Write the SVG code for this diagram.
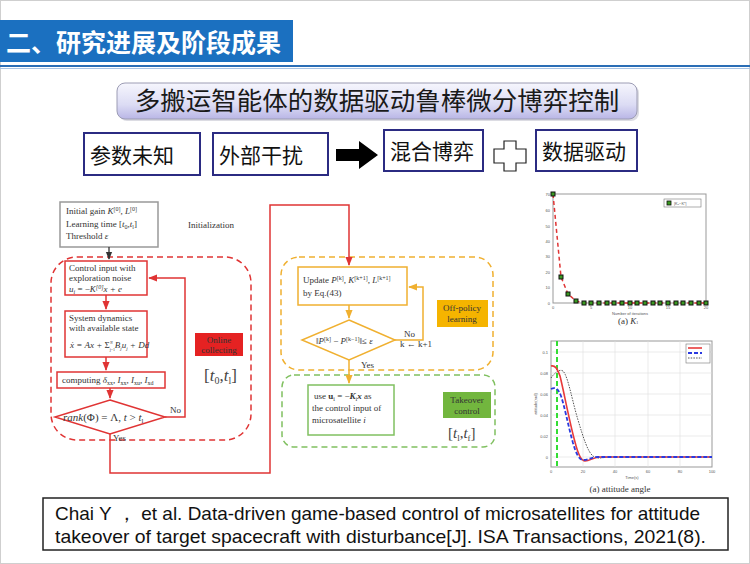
<svg xmlns="http://www.w3.org/2000/svg" width="750" height="564" viewBox="0 0 750 564">
<defs>
<linearGradient id="bannerGrad" x1="0" y1="0" x2="0" y2="1">
<stop offset="0" stop-color="#f6f6fd"/>
<stop offset="0.6" stop-color="#dcdcf4"/>
<stop offset="1" stop-color="#b9b6e6"/>
</linearGradient>
<marker id="arrR" viewBox="0 0 10 10" refX="9" refY="5" markerWidth="6" markerHeight="6" orient="auto"><path d="M0,1 L10,5 L0,9 z" fill="#e03434"/></marker>
<marker id="arrY" viewBox="0 0 10 10" refX="9" refY="5" markerWidth="6" markerHeight="6" orient="auto"><path d="M0,1 L10,5 L0,9 z" fill="#f0b030"/></marker>
<marker id="arrK" viewBox="0 0 10 10" refX="9" refY="5" markerWidth="6" markerHeight="6" orient="auto"><path d="M0,1 L10,5 L0,9 z" fill="#333"/></marker>
</defs>
<style>
.cjk{font-family:"Noto Sans CJK SC","Noto Sans",sans-serif;}
.tag{fill:#fff;stroke:#2b2b82;stroke-width:2;}
.tagt{font-family:"Noto Sans CJK SC",sans-serif;font-size:21px;fill:#111;}
.ser{font-family:"Liberation Serif","DejaVu Serif",serif;font-size:9px;fill:#333;}
.sm{font-size:6px;}
.rbox{fill:#fff;stroke:#e03434;stroke-width:1.5;}
.rline{fill:none;stroke:#e03434;stroke-width:1.5;}
.yline{fill:none;stroke:#f0b030;stroke-width:1.5;}
.ybox{fill:#fff;stroke:#f0b030;stroke-width:1.5;}
.gbox{fill:#fff;stroke:#80c060;stroke-width:1.5;}
.dash{fill:none;stroke-width:1.5;stroke-dasharray:6 4;}
.tick{font-family:"Liberation Sans",sans-serif;font-size:4px;fill:#555;}
.grid{stroke:#ddd;stroke-width:0.6;}
.cite{font-family:"Liberation Sans",Arial,sans-serif;font-size:18.5px;fill:#111;}
</style>
<rect x="0.5" y="0.5" width="749" height="563" fill="#fff" stroke="#cfcfcf" stroke-width="1"/>

<g id="header">
<rect x="0" y="20" width="293" height="42" fill="#1b70c0"/>
<text x="6" y="52" class="cjk" font-size="25" font-weight="bold" fill="#fff">二、研究进展及阶段成果</text>
<rect x="0" y="65" width="750" height="2" fill="#2a6db5"/>
<rect x="0" y="68" width="750" height="1" fill="#a9c4e4"/>
</g>

<g id="banner">
<rect x="119" y="85" width="520" height="36" rx="8" fill="#9a9ab0" opacity="0.35"/>
<rect x="117" y="83" width="520" height="36" rx="8" fill="url(#bannerGrad)" stroke="#9c9cb4" stroke-width="1"/>
<text x="377" y="110" text-anchor="middle" class="cjk" font-size="25.5" fill="#1a1a1a">多搬运智能体的数据驱动鲁棒微分博弈控制</text>
</g>

<g id="tag-params"><rect class="tag" x="84" y="133" width="116" height="42"/><text class="tagt" x="90" y="163">参数未知</text></g>
<g id="tag-disturb"><rect class="tag" x="213" y="133" width="115" height="42"/><text class="tagt" x="219" y="163">外部干扰</text></g>
<g id="big-arrow"><path d="M336,149 H359 V141 L378,155 L359,169 V161 H336 z" fill="#000"/></g>
<g id="tag-game"><rect class="tag" x="384" y="130" width="99" height="41"/><text class="tagt" x="390" y="159">混合博弈</text></g>
<g id="plus"><path d="M504,141 H516 V149 H526 V163 H516 V171 H504 V163 H494 V149 H504 z" fill="#fff" stroke="#222" stroke-width="1.2"/></g>
<g id="tag-data"><rect class="tag" x="536" y="130" width="101" height="41"/><text class="tagt" x="542" y="159">数据驱动</text></g>

<!-- left flowchart -->
<g id="init">
<rect x="60" y="202" width="98" height="45" fill="#fff" stroke="#999" stroke-width="1.5"/>
<text class="ser" x="66" y="214">Initial gain <tspan font-style="italic">K</tspan><tspan class="sm" dy="-3">[0]</tspan><tspan dy="3">, </tspan><tspan font-style="italic">L</tspan><tspan class="sm" dy="-3">[0]</tspan></text>
<text class="ser" x="66" y="227">Learning time [<tspan font-style="italic">t</tspan><tspan class="sm" dy="2">0</tspan><tspan dy="-2">,</tspan><tspan font-style="italic">t</tspan><tspan class="sm" dy="2">l</tspan><tspan dy="-2">]</tspan></text>
<text class="ser" x="66" y="239">Threshold  <tspan font-style="italic">ε</tspan></text>
<text class="ser" x="188" y="228" font-size="8">Initialization</text>
</g>
<g id="online-region">
<rect class="dash" stroke="#e03434" x="51" y="257" width="200" height="183" rx="26"/>
<rect x="195" y="333" width="48" height="23" fill="#e52222"/>
<text class="ser" x="219" y="343" text-anchor="middle" fill="#7d0000" font-size="8.5">Online</text>
<text class="ser" x="219" y="353" text-anchor="middle" fill="#7d0000" font-size="8.5">collecting</text>
<text x="204" y="381" font-family="Liberation Serif,serif" font-size="17" fill="#444">[<tspan font-style="italic">t</tspan><tspan font-size="10" dy="3">0</tspan><tspan dy="-3">,</tspan><tspan font-style="italic">t</tspan><tspan font-size="10" dy="3">l</tspan><tspan dy="-3">]</tspan></text>
</g>
<g id="control-input">
<rect class="rbox" x="65" y="261" width="82" height="34"/>
<text class="ser" x="69" y="271">Control input with</text>
<text class="ser" x="69" y="281">exploration noise</text>
<text class="ser" x="69" y="292" font-style="italic">u<tspan class="sm" dy="2">i</tspan><tspan dy="-2" font-style="normal"> = −</tspan>K<tspan class="sm" dy="-3">[0]</tspan><tspan dy="3">x + e</tspan></text>
</g>
<g id="system-dynamics">
<rect class="rbox" x="65" y="311" width="82" height="46"/>
<text class="ser" x="69" y="321">System dynamics</text>
<text class="ser" x="69" y="331">with available state</text>
<text class="ser" x="70" y="348" font-size="7.5" font-style="italic">ẋ = Ax + <tspan font-style="normal" font-size="9">Σ</tspan><tspan font-size="4" font-style="normal" dy="2.5">j=1</tspan><tspan font-size="4" dx="-5" dy="-7">N</tspan><tspan dx="2" dy="4.5">B</tspan><tspan font-size="5" dy="2">j</tspan><tspan dy="-2">u</tspan><tspan font-size="5" dy="2">j</tspan><tspan dy="-2"> + Dd</tspan></text>
</g>
<g id="computing">
<rect class="rbox" x="57" y="372" width="108" height="16"/>
<text class="ser" x="62" y="383">computing  <tspan font-style="italic">δ</tspan><tspan class="sm" dy="2">xx</tspan><tspan dy="-2">, </tspan><tspan font-style="italic">I</tspan><tspan class="sm" dy="2">xx</tspan><tspan dy="-2">, </tspan><tspan font-style="italic">I</tspan><tspan class="sm" dy="2">xu</tspan><tspan dy="-2">, </tspan><tspan font-style="italic">I</tspan><tspan class="sm" dy="2">xd</tspan></text>
</g>
<g id="rank-check">
<path d="M110,400 L165,417 L110,434 L55,417 z" class="rbox"/>
<text x="63" y="421" font-family="Liberation Serif,serif" font-size="11" fill="#333"><tspan font-style="italic">rank</tspan>(Φ) = Λ,  <tspan font-style="italic">t</tspan> &gt; <tspan font-style="italic">t</tspan><tspan font-size="7" dy="2">l</tspan></text>
<text class="ser" x="170" y="413">No</text>
<text class="ser" x="113" y="441">Yes</text>
</g>

<!-- middle flowchart -->
<g id="offpolicy-region">
<rect class="dash" stroke="#f0b030" x="281" y="257" width="212" height="113" rx="18"/>
<rect x="437" y="300" width="51" height="27" fill="#f5b400"/>
<text class="ser" x="462" y="311" text-anchor="middle" fill="#4a3000">Off-policy</text>
<text class="ser" x="462" y="322" text-anchor="middle" fill="#4a3000">learning</text>
</g>
<g id="update">
<rect class="ybox" x="298" y="267" width="109" height="38"/>
<text class="ser" x="303" y="283">Update <tspan font-style="italic">P</tspan><tspan class="sm" dy="-3">[k]</tspan><tspan dy="3">, </tspan><tspan font-style="italic">K</tspan><tspan class="sm" dy="-3">[k+1]</tspan><tspan dy="3">, </tspan><tspan font-style="italic">L</tspan><tspan class="sm" dy="-3">[k+1]</tspan></text>
<text class="ser" x="303" y="296">by Eq.(43)</text>
</g>
<g id="converge-check">
<path d="M349,320 L395,340 L349,360 L302,340 z" class="ybox"/>
<text class="ser" x="316" y="344">‖<tspan font-style="italic">P</tspan><tspan class="sm" dy="-3">[k]</tspan><tspan dy="3"> − </tspan><tspan font-style="italic">P</tspan><tspan class="sm" dy="-3">[k−1]</tspan><tspan dy="3">‖≤ </tspan><tspan font-style="italic">ε</tspan></text>
<text class="ser" x="404" y="337">No</text>
<text class="ser" x="400" y="347" font-size="5">k ← k+1</text>
<text class="ser" x="361" y="368">Yes</text>
</g>
<g id="takeover-region">
<rect class="dash" stroke="#80c060" x="282" y="375" width="213" height="72" rx="12"/>
<rect x="443" y="392" width="48" height="26" fill="#72b63e"/>
<text class="ser" x="467" y="403" text-anchor="middle" fill="#1d3a10" font-size="8.5">Takeover</text>
<text class="ser" x="467" y="414" text-anchor="middle" fill="#1d3a10" font-size="8.5">control</text>
<text x="448" y="438" font-family="Liberation Serif,serif" font-size="15" fill="#444">[<tspan font-style="italic">t</tspan><tspan font-size="9" dy="3">l</tspan><tspan dy="-3">,</tspan><tspan font-style="italic">t</tspan><tspan font-size="9" dy="3">f</tspan><tspan dy="-3">]</tspan></text>
</g>
<g id="use-control">
<rect class="gbox" x="308" y="385" width="86" height="50"/>
<text class="ser" x="314" y="399">use <tspan font-weight="bold">u</tspan><tspan class="sm" dy="2">i</tspan><tspan dy="-2"> = −</tspan><tspan font-weight="bold" font-style="italic">K</tspan><tspan class="sm" dy="2">i</tspan><tspan dy="-2" font-weight="bold" font-style="italic">x</tspan><tspan> as</tspan></text>
<text class="ser" x="312" y="411">the control input of</text>
<text class="ser" x="312" y="423">microsatellite <tspan font-style="italic">i</tspan></text>
</g>

<g id="connectors">
<path d="M109,247 V259" fill="none" stroke="#333" stroke-width="1.3" marker-end="url(#arrK)"/>
<path d="M106,295 V309" class="rline" marker-end="url(#arrR)"/>
<path d="M106,357 V370" class="rline" marker-end="url(#arrR)"/>
<path d="M110,388 V398" class="rline" marker-end="url(#arrR)"/>
<path d="M165,417 H185 V278 H149" class="rline" marker-end="url(#arrR)"/>
<path d="M110,434 V473 H270 V205 H349 V265" class="rline" marker-end="url(#arrR)"/>
<path d="M349,305 V318" class="yline" marker-end="url(#arrY)"/>
<path d="M395,340 H423 V287 H409" class="yline" marker-end="url(#arrY)"/>
<path d="M349,360 V383" class="yline" marker-end="url(#arrY)"/>
</g>

<!-- plot 1 -->
<g id="plot-k1">
<rect x="553" y="194" width="153" height="109" fill="#fff" stroke="#999" stroke-width="1"/>
<g class="tick" text-anchor="end">
<text x="550" y="196">70</text><text x="550" y="212">60</text><text x="550" y="228">50</text><text x="550" y="243">40</text><text x="550" y="258">30</text><text x="550" y="274">20</text><text x="550" y="289">10</text><text x="550" y="305">0</text>
</g>
<g class="tick" text-anchor="middle">
<text x="553" y="309">0</text><text x="591" y="309">5</text><text x="630" y="309">10</text><text x="668" y="309">15</text><text x="706" y="309">20</text>
</g>
<text class="tick" x="630" y="315" text-anchor="middle">Number of iterations</text>
<text class="ser" x="618" y="324" font-size="5">(a)  <tspan font-style="italic">K</tspan><tspan font-size="4">1</tspan></text>
<path d="M553,194 L561,277 L568,294 L576,301 L584,303 H706" fill="none" stroke="#e03434" stroke-width="1.5" stroke-dasharray="4 3"/>
<g fill="#3a9a20" stroke="#111" stroke-width="1">
<rect x="551" y="192" width="4" height="4"/><rect x="559" y="275" width="4" height="4"/><rect x="566" y="292" width="4" height="4"/><rect x="574" y="299" width="4" height="4"/>
<rect x="582" y="301" width="4" height="4"/><rect x="589" y="301" width="4" height="4"/><rect x="597" y="301" width="4" height="4"/><rect x="605" y="301" width="4" height="4"/><rect x="612" y="301" width="4" height="4"/><rect x="620" y="301" width="4" height="4"/><rect x="628" y="301" width="4" height="4"/><rect x="635" y="301" width="4" height="4"/><rect x="643" y="301" width="4" height="4"/><rect x="651" y="301" width="4" height="4"/><rect x="658" y="301" width="4" height="4"/><rect x="666" y="301" width="4" height="4"/><rect x="674" y="301" width="4" height="4"/><rect x="681" y="301" width="4" height="4"/><rect x="689" y="301" width="4" height="4"/><rect x="697" y="301" width="4" height="4"/><rect x="704" y="301" width="4" height="4"/>
</g>
<rect x="664" y="199" width="37" height="8" fill="#fff" stroke="#777" stroke-width="0.6"/>
<rect x="667" y="201" width="4" height="4" fill="#3a9a20" stroke="#111" stroke-width="0.8"/>
<text class="tick" x="674" y="205">|K₁−K*|</text>
</g>

<!-- plot 2 -->
<g id="plot-attitude">
<rect x="551" y="341" width="161" height="126" fill="#fff" stroke="#999" stroke-width="1"/>
<g class="grid">
<line x1="583" y1="341" x2="583" y2="467"/><line x1="615" y1="341" x2="615" y2="467"/><line x1="648" y1="341" x2="648" y2="467"/><line x1="680" y1="341" x2="680" y2="467"/>
<line x1="551" y1="352" x2="712" y2="352"/><line x1="551" y1="373" x2="712" y2="373"/><line x1="551" y1="394" x2="712" y2="394"/><line x1="551" y1="415" x2="712" y2="415"/><line x1="551" y1="436" x2="712" y2="436"/><line x1="551" y1="457" x2="712" y2="457"/>
</g>
<g class="tick" text-anchor="end">
<text x="548" y="354">0.1</text><text x="548" y="375">0.08</text><text x="548" y="396">0.06</text><text x="548" y="417">0.04</text><text x="548" y="438">0.02</text><text x="548" y="459">0</text>
</g>
<g class="tick" text-anchor="middle">
<text x="551" y="473">0</text><text x="583" y="473">20</text><text x="615" y="473">40</text><text x="648" y="473">60</text><text x="680" y="473">80</text><text x="712" y="473">100</text>
</g>
<text class="tick" x="632" y="479" text-anchor="middle">Time(s)</text>
<text class="tick" x="537" y="404" text-anchor="middle" transform="rotate(-90 537 404)">attitude(rad)</text>
<text class="ser" x="620" y="492" font-size="5" text-anchor="middle">(a) attitude angle</text>
<path d="M557,341 V467" stroke="#33dd33" stroke-width="2" stroke-dasharray="5 3"/>
<path d="M551,378 C555,372 560,369 563,371 C568,376 572,400 578,420 C584,440 588,452 593,456 C597,459 601,458 607,457 H712" fill="none" stroke="#555" stroke-width="1" stroke-dasharray="1.5 1.2"/>
<path d="M551,366 C555,365 557,368 560,376 C564,392 569,420 575,442 C578,454 581,461 585,461 C590,461 594,457 600,457 H712" fill="none" stroke="#e83a3a" stroke-width="1.6"/>
<path d="M551,389 C555,387 558,388 561,396 C565,408 568,425 573,443 C576,453 579,460 583,460 C588,460 592,457 598,457 H712" fill="none" stroke="#2a3ae0" stroke-width="1.8" stroke-dasharray="4 2"/>
<rect x="686" y="344" width="24" height="19" fill="#fff" stroke="#777" stroke-width="0.6"/>
<line x1="688" y1="348" x2="702" y2="348" stroke="#e83a3a" stroke-width="1.6"/>
<line x1="688" y1="353" x2="702" y2="353" stroke="#2a3ae0" stroke-width="1.8" stroke-dasharray="4 2"/>
<line x1="688" y1="358" x2="702" y2="358" stroke="#555" stroke-width="1" stroke-dasharray="1.5 1.2"/>
</g>

<g id="citation">
<rect x="43" y="498" width="685" height="52" fill="#fff" stroke="#222" stroke-width="1.5"/>
<text class="cite" x="55" y="520" textLength="645" lengthAdjust="spacingAndGlyphs">Chai Y ，   et al. Data-driven game-based control of microsatellites for attitude</text>
<text class="cite" x="55" y="543" textLength="651" lengthAdjust="spacingAndGlyphs">takeover of target spacecraft with disturbance[J]. ISA Transactions, 2021(8).</text>
</g>
</svg>
